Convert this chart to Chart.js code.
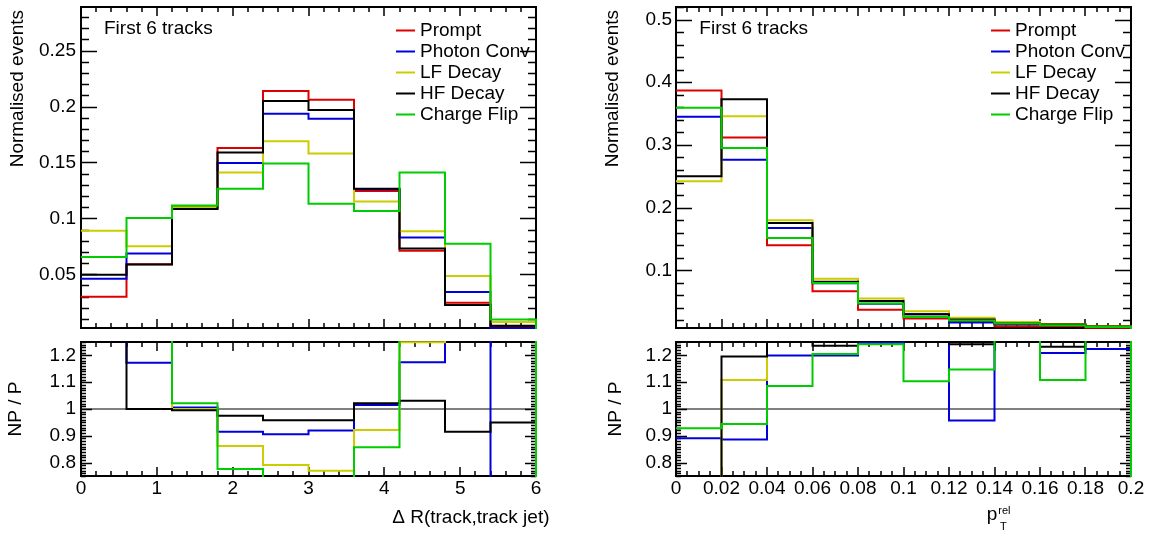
<!DOCTYPE html>
<html>
<head>
<meta charset="utf-8">
<script src="https://cdn.jsdelivr.net/npm/chart.js@4.4.1/dist/chart.umd.min.js"></script>
<style>
  body { margin: 0; background: #fff; width: 1151px; height: 535px; position: relative; overflow: hidden; }
  canvas { position: absolute; }
</style>
</head>
<body>
<canvas id="dRTop" width="560" height="335" style="left:0;top:0"></canvas>
<canvas id="dRRatio" width="560" height="200" style="left:0;top:335px"></canvas>
<canvas id="ptTop" width="556" height="335" style="left:595px;top:0"></canvas>
<canvas id="ptRatio" width="556" height="200" style="left:595px;top:335px"></canvas>
<script>
// series + bin edges
const seriesNames = ['Prompt', 'Photon Conv', 'LF Decay', 'HF Decay', 'Charge Flip'];
const seriesColors = ['#dd0000', '#0000dd', '#cccc00', '#000000', '#00cc00'];
const dREdges = [0, 0.6, 1.2, 1.8, 2.4, 3.0, 3.6, 4.2, 4.8, 5.4, 6.0];
const ptEdges = [0, 0.02, 0.04, 0.06, 0.08, 0.1, 0.12, 0.14, 0.16, 0.18, 0.2];

// Delta R, normalised events
const dRPrompt = [0.030, 0.059, 0.109, 0.163, 0.214, 0.206, 0.1245, 0.071, 0.0245, 0.0036];
const dRPhoton = [0.046, 0.0685, 0.110, 0.1495, 0.1935, 0.189, 0.126, 0.083, 0.0342, 0.0015];
const dRLF     = [0.089, 0.075, 0.110, 0.141, 0.169, 0.158, 0.115, 0.0885, 0.0485, 0.0074];
const dRHF     = [0.0496, 0.0587, 0.1085, 0.159, 0.205, 0.197, 0.1265, 0.073, 0.0226, 0.0040];
const dRFlip   = [0.0655, 0.1003, 0.1115, 0.1265, 0.149, 0.113, 0.1065, 0.141, 0.0774, 0.0095];

// Delta R, NP / P
const dRRatioPhoton = [1.53, 1.173, 1.006, 0.9155, 0.906, 0.92, 1.015, 1.174, 1.40, 0.45];
const dRRatioLF     = [2.9, 1.27, 1.0, 0.862, 0.791, 0.77, 0.922, 1.249, 1.98, 2.0];
const dRRatioHF     = [1.65, 1.0, 0.995, 0.975, 0.958, 0.958, 1.021, 1.031, 0.9155, 0.95];
const dRRatioFlip   = [2.2, 1.70, 1.021, 0.776, 0.70, 0.55, 0.857, 1.99, 3.2, 2.6];

// pT rel, normalised events
const ptPrompt = [0.387, 0.312, 0.140, 0.0665, 0.0373, 0.023, 0.0175, 0.0107, 0.0111, 0.0085];
const ptPhoton = [0.345, 0.2765, 0.1675, 0.0795, 0.0465, 0.030, 0.0167, 0.0140, 0.0134, 0.0104];
const ptLF     = [0.242, 0.3456, 0.180, 0.0867, 0.0549, 0.0346, 0.0245, 0.0175, 0.0145, 0.0110];
const ptHF     = [0.250, 0.3727, 0.1755, 0.0818, 0.051, 0.0298, 0.0217, 0.0150, 0.0137, 0.0105];
const ptFlip   = [0.3595, 0.295, 0.1515, 0.0798, 0.0469, 0.0255, 0.0201, 0.015, 0.0123, 0.0096];

// pT rel, NP / P
const ptRatioPhoton = [0.891, 0.886, 1.2, 1.2, 1.247, 1.30, 0.957, 1.31, 1.209, 1.224];
const ptRatioLF     = [0.625, 1.108, 1.29, 1.31, 1.47, 1.50, 1.40, 1.64, 1.31, 1.29];
const ptRatioHF     = [0.646, 1.196, 1.255, 1.236, 1.37, 1.30, 1.242, 1.40, 1.232, 1.30];
const ptRatioFlip   = [0.928, 0.944, 1.086, 1.205, 1.242, 1.104, 1.147, 1.40, 1.108, 1.30];

// axis ticks
const dRXTicks = [0, 1, 2, 3, 4, 5, 6];
const ptXTicks = [0, 0.02, 0.04, 0.06, 0.08, 0.1, 0.12, 0.14, 0.16, 0.18, 0.2];
const dRTopYTicks = [0.05, 0.1, 0.15, 0.2, 0.25];
const ptTopYTicks = [0.1, 0.2, 0.3, 0.4, 0.5];
const ratioYTicks = [0.8, 0.9, 1, 1.1, 1.2];

const FONT = "'Liberation Sans', Arial, Helvetica, sans-serif";
Chart.defaults.font.family = FONT;
Chart.defaults.color = '#000';

// step outline of a histogram, dropping to zero at the last edge
function histData(edges, vals) {
  const n = vals.length;
  const pts = vals.map((v, i) => ({x: edges[i], y: v}));
  pts.push({x: edges[n], y: vals[n - 1]});
  pts.push({x: edges[n], y: 0});
  return pts;
}

// ROOT style frame, inward ticks on all sides, texts and legend
const rootPad = {
  id: 'rootPad',
  beforeDatasetsDraw(chart, args, o) {
    const ctx = chart.ctx, a = chart.chartArea;
    const xs = chart.scales.x, ys = chart.scales.y;
    const isMajor = (v, list) => list.some(t => Math.abs(t - v) < 1e-7);
    ctx.save();
    ctx.strokeStyle = '#000';
    ctx.lineWidth = 1.5;
    ctx.beginPath();
    for (let i = Math.ceil(xs.min / o.xMinor - 1e-6); i * o.xMinor <= xs.max + 1e-9; i++) {
      const v = i * o.xMinor;
      const len = isMajor(v, o.xTicks) ? o.xLen[0] : o.xLen[1];
      const px = Math.round(xs.getPixelForValue(v));
      ctx.moveTo(px, a.bottom); ctx.lineTo(px, a.bottom - len);
      ctx.moveTo(px, a.top); ctx.lineTo(px, a.top + len);
    }
    for (let i = Math.ceil(ys.min / o.yMinor - 1e-6); i * o.yMinor <= ys.max + 1e-9; i++) {
      const v = i * o.yMinor;
      const len = isMajor(v, o.yTicks) ? o.yLen[0] : o.yLen[1];
      const py = Math.round(ys.getPixelForValue(v)) + 0.5;
      ctx.moveTo(a.left, py); ctx.lineTo(a.left + len, py);
      ctx.moveTo(a.right, py); ctx.lineTo(a.right - len, py);
    }
    ctx.stroke();
    ctx.lineWidth = 2;
    ctx.strokeRect(a.left, a.top, a.right - a.left, a.bottom - a.top);
    ctx.restore();
  },
  afterDraw(chart, args, o) {
    const ctx = chart.ctx;
    ctx.save();
    ctx.fillStyle = '#000';
    (o.texts || []).forEach(t => {
      ctx.save();
      ctx.font = (t.size || 19) + 'px ' + FONT;
      ctx.textAlign = t.align || 'left';
      ctx.textBaseline = t.baseline || 'alphabetic';
      ctx.translate(t.x, t.y);
      if (t.rotate) ctx.rotate(-Math.PI / 2);
      ctx.fillText(t.text, 0, 0);
      ctx.restore();
    });
    if (o.legend) {
      const L = o.legend;
      let k = 0;
      chart.data.datasets.forEach(ds => {
        if (!ds.label) return;
        const yb = L.y0 + k * L.dy;
        ctx.strokeStyle = ds.borderColor;
        ctx.lineWidth = 2;
        ctx.beginPath();
        ctx.moveTo(L.x0, yb - 5.5); ctx.lineTo(L.x1, yb - 5.5);
        ctx.stroke();
        ctx.font = '19px ' + FONT;
        ctx.textAlign = 'left';
        ctx.textBaseline = 'alphabetic';
        ctx.fillText(ds.label, L.tx, yb);
        k++;
      });
    }
    ctx.restore();
  }
};

function makePanel(id, cfg) {
  const canvas = document.getElementById(id);
  const W = canvas.width;
  const datasets = cfg.series.map((s, i) => ({
    label: s.name,
    data: histData(cfg.edges, s.vals),
    borderColor: s.color,
    borderWidth: 2,
    stepped: 'before',
    pointRadius: 0,
    fill: false,
    clip: 1,
    order: cfg.series.length - i
  }));
  if (cfg.refLine) {
    datasets.push({
      label: '',
      data: [{x: cfg.xRange[0], y: 1}, {x: cfg.xRange[1], y: 1}],
      borderColor: '#000', borderWidth: 1, pointRadius: 0, order: 99
    });
  }
  return new Chart(canvas, {
    type: 'line',
    data: { datasets: datasets },
    plugins: [rootPad],
    options: {
      responsive: false,
      animation: false,
      parsing: false,
      layout: { padding: { left: 0, top: 7, right: W - 536, bottom: cfg.xLabels ? 0 : 7 } },
      plugins: {
        legend: { display: false },
        tooltip: { enabled: false },
        rootPad: cfg.pad
      },
      scales: {
        x: {
          type: 'linear',
          min: cfg.xRange[0], max: cfg.xRange[1],
          grid: { display: false, drawTicks: false },
          border: { display: false },
          ticks: {
            display: cfg.xLabels, padding: 1, maxRotation: 0, autoSkip: false,
            font: { size: 19 },
            callback: v => String(+v.toFixed(3))
          },
          afterBuildTicks: s => { s.ticks = cfg.pad.xTicks.map(v => ({value: v})); },
          afterFit: s => { s.height = cfg.xLabels ? 59 : 0; s.paddingLeft = 0; s.paddingRight = 0; }
        },
        y: {
          type: 'linear',
          min: cfg.yRange[0], max: cfg.yRange[1],
          grid: { display: false, drawTicks: false },
          border: { display: false },
          ticks: {
            padding: cfg.yPad, font: { size: 19 },
            callback: v => String(+v.toFixed(3))
          },
          afterBuildTicks: s => { s.ticks = cfg.pad.yTicks.map(v => ({value: v})); },
          afterFit: s => { s.width = 81; s.paddingTop = 0; s.paddingBottom = 0; }
        }
      }
    }
  });
}

const legendBox = { x0: 396, x1: 415, tx: 420, y0: 36, dy: 21 };

makePanel('dRTop', {
  edges: dREdges,
  series: [dRPrompt, dRPhoton, dRLF, dRHF, dRFlip].map((v, i) => ({name: seriesNames[i], color: seriesColors[i], vals: v})),
  xRange: [0, 6], yRange: [0.002, 0.289], xLabels: false, yPad: 5,
  pad: {
    xTicks: dRXTicks, yTicks: dRTopYTicks, xMinor: 0.2, yMinor: 0.01, xLen: [9, 5], yLen: [16, 8],
    legend: legendBox,
    texts: [
      { text: 'First 6 tracks', x: 104, y: 34 },
      { text: 'Normalised events', x: 17.5, y: 10, rotate: true, align: 'right', baseline: 'middle' }
    ]
  }
});

makePanel('dRRatio', {
  edges: dREdges,
  series: [dRRatioPhoton, dRRatioLF, dRRatioHF, dRRatioFlip].map((v, i) => ({name: seriesNames[i + 1], color: seriesColors[i + 1], vals: v})),
  refLine: true,
  xRange: [0, 6], yRange: [0.75, 1.25], xLabels: true, yPad: 5,
  pad: {
    xTicks: dRXTicks, yTicks: ratioYTicks, xMinor: 0.2, yMinor: 0.01, xLen: [9, 5], yLen: [11, 5],
    texts: [
      { text: 'NP / P', x: 16, y: 74, rotate: true, align: 'center', baseline: 'middle' },
      { text: '\u0394 R(track,track jet)', x: 549.5, y: 188, align: 'right' }
    ]
  }
});

makePanel('ptTop', {
  edges: ptEdges,
  series: [ptPrompt, ptPhoton, ptLF, ptHF, ptFlip].map((v, i) => ({name: seriesNames[i], color: seriesColors[i], vals: v})),
  xRange: [0, 0.2], yRange: [0.008, 0.52], xLabels: false, yPad: 4,
  pad: {
    xTicks: ptXTicks, yTicks: ptTopYTicks, xMinor: 0.005, yMinor: 0.02, xLen: [9, 5], yLen: [16, 8],
    legend: legendBox,
    texts: [
      { text: 'First 6 tracks', x: 104.3, y: 34 },
      { text: 'Normalised events', x: 17.5, y: 10, rotate: true, align: 'right', baseline: 'middle' }
    ]
  }
});

makePanel('ptRatio', {
  edges: ptEdges,
  series: [ptRatioPhoton, ptRatioLF, ptRatioHF, ptRatioFlip].map((v, i) => ({name: seriesNames[i + 1], color: seriesColors[i + 1], vals: v})),
  refLine: true,
  xRange: [0, 0.2], yRange: [0.75, 1.25], xLabels: true, yPad: 4,
  pad: {
    xTicks: ptXTicks, yTicks: ratioYTicks, xMinor: 0.005, yMinor: 0.01, xLen: [9, 5], yLen: [11, 5],
    texts: [
      { text: 'NP / P', x: 20.8, y: 74, rotate: true, align: 'center', baseline: 'middle' },
      { text: 'p', x: 391.7, y: 184.5 },
      { text: 'rel', x: 403.3, y: 178.5, size: 11 },
      { text: 'T', x: 405, y: 195, size: 11 }
    ]
  }
});
</script>
</body>
</html>
